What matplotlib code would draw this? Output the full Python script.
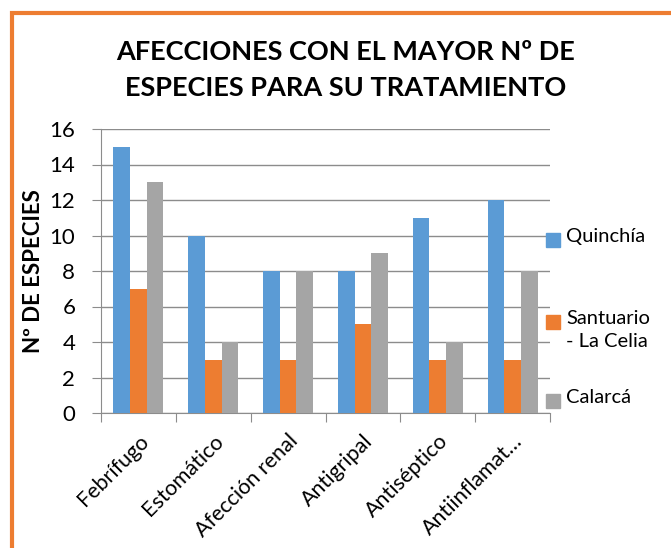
import numpy as np
import matplotlib.pyplot as plt
from matplotlib.patches import Rectangle

plt.rcParams['font.family'] = ['Lato', 'DejaVu Sans']

categorias = ['Febrífugo', 'Estomático', 'Afección renal', 'Antigripal', 'Antiséptico', 'Antiinflamat…']
quinchia = [15, 10, 8, 8, 11, 12]
santuario = [7, 3, 3, 5, 3, 3]
calarca = [13, 4, 8, 9, 4, 8]
series = ['Quinchía', 'Santuario\n- La Celia', 'Calarcá']
colores = ['#5B9BD5', '#ED7D31', '#A5A5A5']

fig = plt.figure(figsize=(6.71, 5.48), dpi=100)
ax = fig.add_axes([101/671, 1-413/548, 449/671, 284/548])

x = np.arange(len(categorias))
w = 0.222
for i, (vals, c) in enumerate(zip([quinchia, santuario, calarca], colores)):
    ax.bar(x + (i-1)*w, vals, w, color=c, zorder=3)

ax.set_xlim(-0.5, len(categorias)-0.5)
ax.set_ylim(0, 16)
ax.set_yticks(range(0, 17, 2))
ax.yaxis.grid(True, color='#8C8C8C', linewidth=1, zorder=0)
for s in ['top', 'right']:
    ax.spines[s].set_visible(False)
for s in ['left', 'bottom']:
    ax.spines[s].set_color('#8C8C8C')
ax.set_xticks(np.arange(-0.5, len(categorias)), minor=False)
ax.set_xticklabels([])
ax.set_xticks(x, minor=True)
ax.set_xticklabels(categorias, minor=True, rotation=45, ha='right', rotation_mode='anchor', fontsize=15.5)
ax.tick_params(axis='x', which='major', length=6.5, color='#8C8C8C')
ax.tick_params(axis='x', which='minor', length=0, pad=13)
ax.tick_params(axis='y', length=6.5, color='#8C8C8C', labelsize=16, pad=12)
ax.set_ylabel('Nº DE ESPECIES', fontsize=16, fontweight='bold', labelpad=4)

# leyenda a mano: el cuadro va con la primera linea del texto
ley_y = [240, 322, 401]
for lab, c, yy in zip(series, colores, ley_y):
    fy = 1 - yy/548
    fig.patches.append(Rectangle((546/671, fy - 7/548), 14/671, 14/548,
                                 transform=fig.transFigure, color=c))
    fig.text(566/671, fy + 12/548, lab, ha='left', va='top', fontsize=14.5,
             linespacing=1.45)

fig.text(0.515, 1-70/548, 'AFECCIONES CON EL MAYOR Nº DE\nESPECIES PARA SU TRATAMIENTO',
         ha='center', va='center', fontsize=19.5, fontweight='bold', linespacing=1.55)

# borde naranja (cortado a la derecha y abajo como en la imagen)
fig.patches.append(Rectangle((12/671, -0.1), 1.2, 1-13/548+0.1, transform=fig.transFigure,
                             fill=False, edgecolor='#ED7D31', linewidth=3))

fig.savefig('out.png', dpi=100)
